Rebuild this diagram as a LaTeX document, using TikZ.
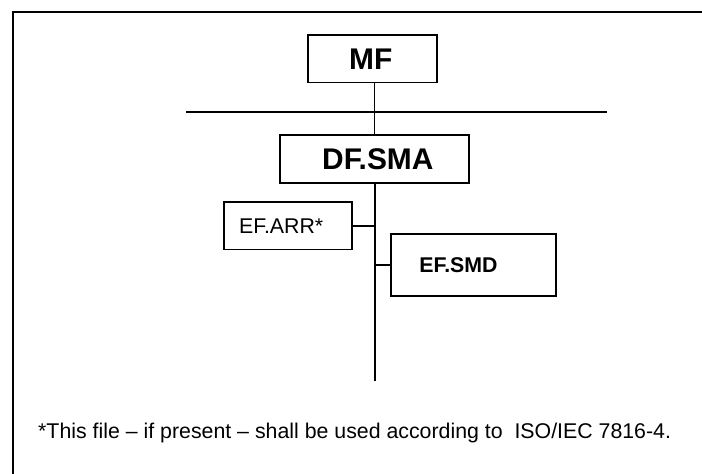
\documentclass[tikz,border=0pt]{standalone}
\usepackage{fontspec}
\setmainfont{Liberation Sans}
\begin{document}
\begin{tikzpicture}[x=1bp,y=-1bp,
  box/.style={draw,line width=1.8bp,inner sep=0pt,anchor=center},
  conn/.style={line width=1.8bp},
  bigtxt/.style={font=\fontsize{30}{34}\selectfont\bfseries},
  smalltxt/.style={font=\fontsize{21.4}{25}\selectfont},
  smallbold/.style={font=\fontsize{21.4}{25}\selectfont\bfseries}]
\useasboundingbox (0,0) rectangle (702,474);
% frame
\draw[line width=2bp] (13,474) -- (13,12) -- (702,12);
% boxes
\node[box,bigtxt,minimum width=128.7bp,minimum height=47.5bp] (MF) at (372.3,58.8)
  {\hspace*{-1.5bp}\raisebox{-1.5bp}{MF}\hspace*{1.5bp}};
\node[box,bigtxt,minimum width=188.8bp,minimum height=47.7bp] (DF) at (374.3,158.9)
  {\hspace*{3.5bp}\raisebox{-2bp}{DF.SMA}\hspace*{-3.5bp}};
\node[box,smalltxt,minimum width=127.7bp,minimum height=47.3bp] (ARR) at (288.2,225.9)
  {\hspace*{-7bp}EF.ARR*\hspace*{7bp}};
\node[box,smallbold,minimum width=165bp,minimum height=62bp] (SMD) at (473.5,265.2)
  {\hspace*{-15bp}\raisebox{-4bp}{EF.SMD}\hspace*{15bp}};
% horizontal line
\coordinate (hl1) at (186,112);
\coordinate (hl2) at (607,112);
\draw[conn] (hl1) -- (hl2);
% stem coordinates
\coordinate (bot) at (375.3,380.5);
\draw[conn] (DF.north -| 374.5,0) -- (MF.south -| 374.5,0);
\draw[conn] (DF.south -| bot) -- (bot);
\draw[conn] (ARR.east) -- (ARR.east -| bot);
\draw[conn] (SMD.west) -- (SMD.west -| bot);
% footnote
\node[smalltxt,anchor=base west,inner sep=0pt] (note) at (38,438)
  {*This file -- if present -- shall be used according to\ \ ISO/IEC 7816-4.};
\end{tikzpicture}
\end{document}
